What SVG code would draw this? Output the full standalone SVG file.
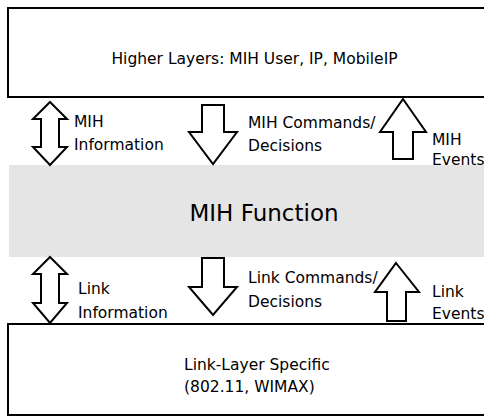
<svg xmlns="http://www.w3.org/2000/svg" width="484" height="418" viewBox="0 0 484 418">
<style>
.box{fill:#fff;stroke:#000;stroke-width:2}
.band{fill:#e5e5e5}
.arr{fill:#fff;stroke:#000;stroke-width:2;stroke-linejoin:miter}
.t{font-family:"DejaVu Sans",sans-serif;font-size:15.5px;fill:#000}
.big{font-family:"DejaVu Sans",sans-serif;font-size:23px;fill:#000}
</style>
<rect width="484" height="418" fill="#fff"/>
<g id="higher">
<rect class="box" x="8" y="8" width="480" height="89"/>
<text class="t" x="254.5" y="64" text-anchor="middle">Higher Layers: MIH User, IP, MobileIP</text>
</g>
<g id="mihf">
<rect class="band" x="9" y="165" width="480" height="92"/>
<text class="big" x="264" y="221" text-anchor="middle">MIH Function</text>
</g>
<g id="link">
<rect class="box" x="8" y="324" width="480" height="91"/>
<text class="t" x="184" y="370">Link-Layer Specific</text>
<text class="t" x="184" y="392">(802.11, WIMAX)</text>
</g>
<g id="connectors">
<g id="mih-info">
<path class="arr" d="M50,102 L67,119 L59,119 L59,147 L67,147 L50,165 L33,147 L41,147 L41,119 L33,119 Z"/>
<text class="t" x="74" y="127">MIH</text>
<text class="t" x="74" y="150">Information</text>
</g>
<g id="mih-cmd">
<path class="arr" d="M202,105 L224,105 L224,132 L237,132 L213,164 L189,132 L202,132 Z"/>
<text class="t" x="248" y="128">MIH Commands/</text>
<text class="t" x="248" y="151">Decisions</text>
</g>
<g id="mih-events">
<path class="arr" d="M403,99 L426,132 L413,132 L413,159 L393,159 L393,132 L380,132 Z"/>
<text class="t" x="432" y="145">MIH</text>
<text class="t" x="432" y="165">Events</text>
</g>
<g id="link-info">
<path class="arr" d="M50,257 L67,274 L59,274 L59,303 L67,303 L50,323 L33,303 L41,303 L41,274 L33,274 Z"/>
<text class="t" x="78" y="294">Link</text>
<text class="t" x="78" y="318">Information</text>
</g>
<g id="link-cmd">
<path class="arr" d="M202,258 L224,258 L224,287 L237,287 L213,315 L189,287 L202,287 Z"/>
<text class="t" x="248" y="283">Link Commands/</text>
<text class="t" x="248" y="307">Decisions</text>
</g>
<g id="link-events">
<path class="arr" d="M396,263 L419,292 L406,292 L406,321 L387,321 L387,292 L375,292 Z"/>
<text class="t" x="432" y="297">Link</text>
<text class="t" x="432" y="319">Events</text>
</g>
</g>
</svg>
